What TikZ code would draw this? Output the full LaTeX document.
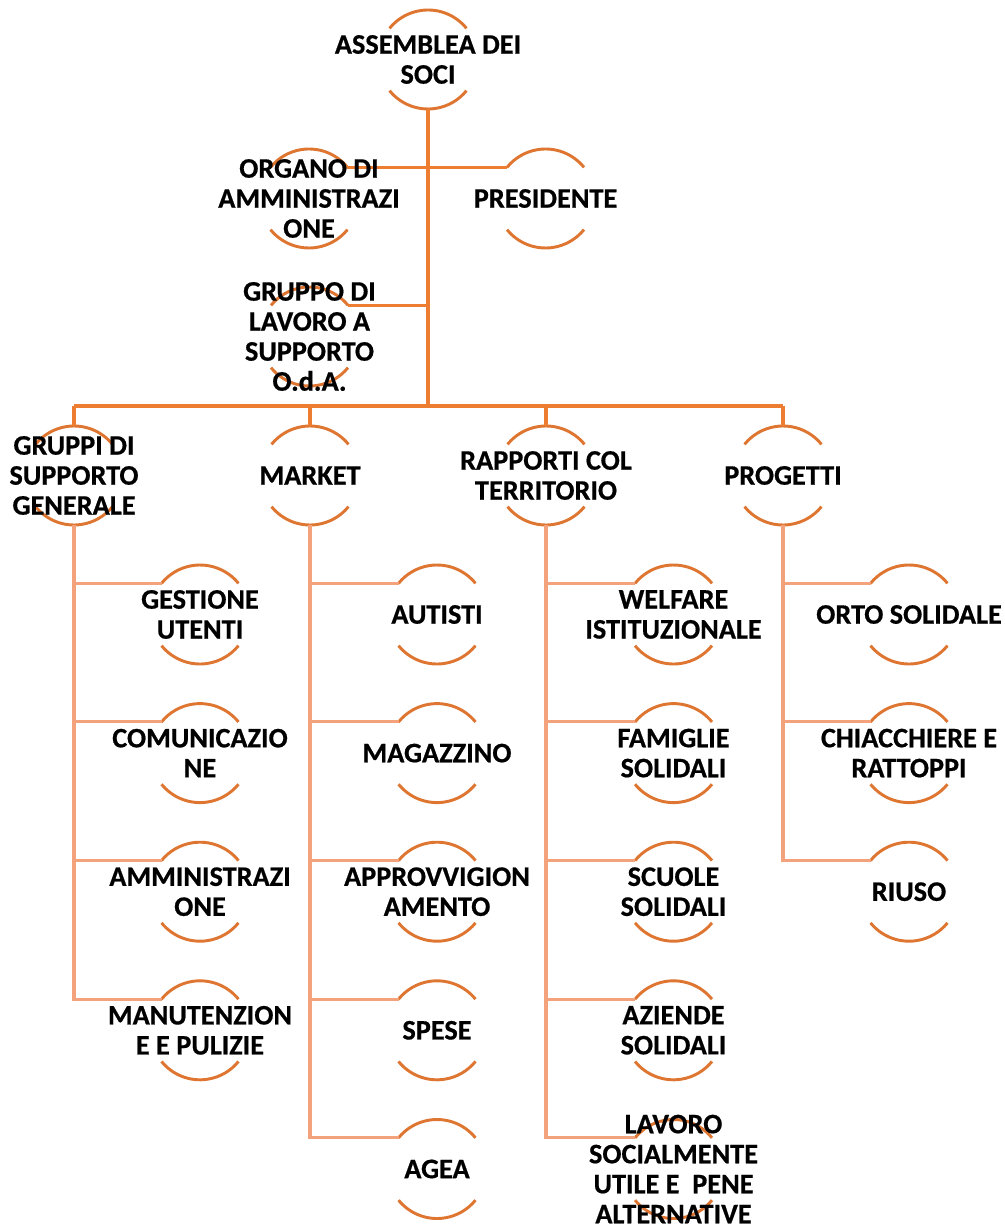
\documentclass[tikz,border=0pt]{standalone}
\usepackage{fontspec}
\setmainfont{Carlito}[BoldFeatures={FakeBold=0.6}]
\usetikzlibrary{calc}
\definecolor{arcc}{RGB}{222,118,50}
\definecolor{topc}{RGB}{237,125,49}
\definecolor{lowc}{RGB}{243,162,124}
\tikzset{
  orb/.style={circle,minimum size=74.25pt,inner sep=0pt,outer sep=0pt,draw=none},
  lbl/.style={align=center,inner sep=0pt,font=\fontsize{21.2pt}{22.5pt}\selectfont\bfseries,text=black},
  arcline/.style={draw=arcc,line width=2.2pt},
  conA/.style={draw=topc,line width=2.3pt},
  conB/.style={draw=lowc,line width=2.3pt}
}
\newcommand{\orgunit}[3]{%
  \node[orb] (#1) at (#2,#3) {};
  \draw[arcline] (#1.39) arc[start angle=39,end angle=141,radius=37.125pt];
  \draw[arcline] (#1.219) arc[start angle=219,end angle=321,radius=37.125pt];
}
\newcommand{\orglabel}[2]{\node[lbl] (#1-t) at (#1) {#2};}
\begin{document}
\begin{tikzpicture}[x=0.75pt,y=-0.75pt]
\useasboundingbox (0,0) rectangle (1005,1226);
% circles
\orgunit{asm}{428}{59.5}
\orgunit{org}{309}{198.5}
\orgunit{pres}{545.5}{198.5}
\orgunit{grl}{309.5}{336.5}
\orgunit{gsg}{74}{475.5}
\orgunit{mkt}{310}{475.5}
\orgunit{rct}{546}{475.5}
\orgunit{prg}{783}{475.5}
% level 3
\orgunit{gu}{200}{614.5}
\orgunit{com}{200}{753.1}
\orgunit{amm}{200}{891.7}
\orgunit{man}{200}{1030.3}
\orgunit{aut}{437}{614.5}
\orgunit{mag}{437}{753.1}
\orgunit{app}{437}{891.7}
\orgunit{spe}{437}{1030.3}
\orgunit{age}{437}{1169}
\orgunit{wel}{673.5}{614.5}
\orgunit{fam}{673.5}{753.1}
\orgunit{scu}{673.5}{891.7}
\orgunit{azi}{673.5}{1030.3}
\orgunit{lav}{673.5}{1169}
\orgunit{ort}{909}{614.5}
\orgunit{chi}{909}{753.1}
\orgunit{riu}{909}{891.7}
\coordinate (bar) at (428,406);
% top connectors
\draw[conA] (asm.south) -- (bar);
\draw[conA] (org.39) -- (org.39 -| asm.south);
\draw[conA] (pres.141) -- (pres.141 -| asm.south);
\draw[conA] (grl.39) -- (grl.39 -| asm.south);
\draw[conA] (bar -| gsg.north) -- (bar -| prg.north);
\draw[conA] (bar -| gsg.north) -- (gsg.north);
\draw[conA] (bar -| mkt.north) -- (mkt.north);
\draw[conA] (bar -| rct.north) -- (rct.north);
\draw[conA] (bar -| prg.north) -- (prg.north);
% lower connectors
\foreach \c in {gu,com,amm,man} \draw[conB] (gsg.south) |- (\c.141);
\foreach \c in {aut,mag,app,spe,age} \draw[conB] (mkt.south) |- (\c.141);
\foreach \c in {wel,fam,scu,azi,lav} \draw[conB] (rct.south) |- (\c.141);
\foreach \c in {ort,chi,riu} \draw[conB] (prg.south) |- (\c.141);
% labels
\orglabel{asm}{ASSEMBLEA DEI\\SOCI}
\orglabel{org}{ORGANO DI\\AMMINISTRAZI\\ONE}
\orglabel{pres}{PRESIDENTE}
\orglabel{grl}{GRUPPO DI\\LAVORO A\\SUPPORTO\\O.d.A.}
\orglabel{gsg}{GRUPPI DI\\SUPPORTO\\GENERALE}
\orglabel{mkt}{MARKET}
\orglabel{rct}{RAPPORTI COL\\TERRITORIO}
\orglabel{prg}{PROGETTI}
\orglabel{gu}{GESTIONE\\UTENTI}
\orglabel{com}{COMUNICAZIO\\NE}
\orglabel{amm}{AMMINISTRAZI\\ONE}
\orglabel{man}{MANUTENZION\\E E PULIZIE}
\orglabel{aut}{AUTISTI}
\orglabel{mag}{MAGAZZINO}
\orglabel{app}{APPROVVIGION\\AMENTO}
\orglabel{spe}{SPESE}
\orglabel{age}{AGEA}
\orglabel{wel}{WELFARE\\ISTITUZIONALE}
\orglabel{fam}{FAMIGLIE\\SOLIDALI}
\orglabel{scu}{SCUOLE\\SOLIDALI}
\orglabel{azi}{AZIENDE\\SOLIDALI}
\orglabel{lav}{LAVORO\\SOCIALMENTE\\UTILE E\ \ PENE\\ALTERNATIVE}
\orglabel{ort}{ORTO SOLIDALE}
\orglabel{chi}{CHIACCHIERE E\\RATTOPPI}
\orglabel{riu}{RIUSO}
\end{tikzpicture}
\end{document}
